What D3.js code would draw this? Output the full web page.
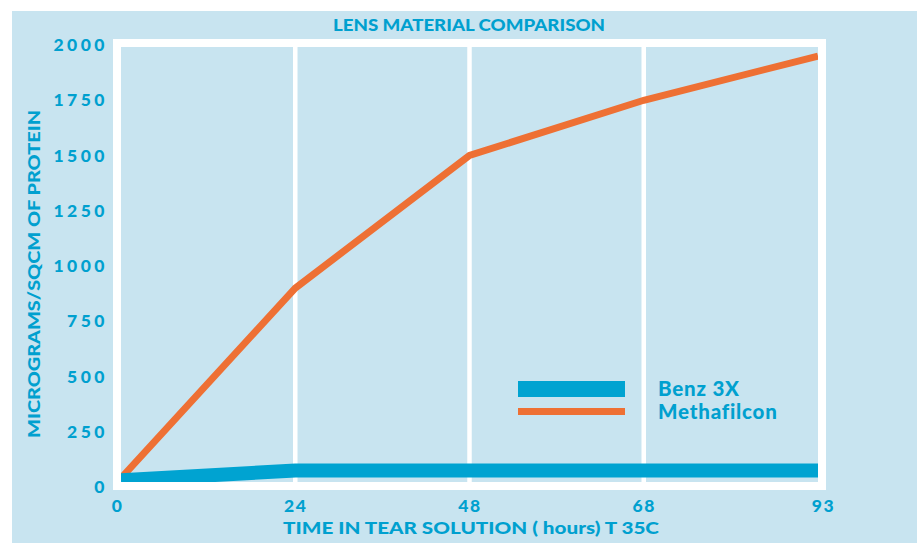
<!DOCTYPE html>
<html><head><meta charset="utf-8">
<script src="https://cdn.jsdelivr.net/npm/d3@7"></script>
<style>
html,body{margin:0;padding:0;background:#fff;}
svg{display:block;}
text{font-family:Lato,"Open Sans",sans-serif;font-weight:900;fill:#00a0cf;font-variant-ligatures:none;}
</style></head>
<body>
<svg id="c" width="917" height="543"></svg>
<script>
const hours = ["0","24","48","68","93"];
const benz = [30, 75, 75, 75, 75];
const methafilcon = [40, 900, 1500, 1750, 1950];
const yTicks = [0,250,500,750,1000,1250,1500,1750,2000];
const seriesNames = ["Benz 3X","Methafilcon"];
const colors = {bg:"#c8e4f0", blue:"#00a3d1", orange:"#ee7034", text:"#00a0cf"};

const svg = d3.select("#c");
const W = 917, H = 543;
const inner = {l:121, r:818, t:47, b:482};
const x = d3.scalePoint().domain(hours).range([inner.l, inner.r]).padding(0);
const y = d3.scaleLinear().domain([0,2000]).range([487,45]);

svg.append("rect").attr("x",12).attr("y",11).attr("width",W-12).attr("height",H-11).attr("fill",colors.bg);
// frame
svg.append("rect").attr("x",inner.l-8).attr("y",inner.t-8)
  .attr("width",inner.r-inner.l+16).attr("height",inner.b-inner.t+16).attr("fill","#fff");
svg.append("rect").attr("x",inner.l).attr("y",inner.t)
  .attr("width",inner.r-inner.l).attr("height",inner.b-inner.t).attr("fill",colors.bg);

svg.append("defs").append("clipPath").attr("id","clip").append("rect")
  .attr("x",inner.l).attr("y",inner.t).attr("width",inner.r-inner.l).attr("height",inner.b-inner.t);

// gridlines
svg.append("g").selectAll("line").data(hours.slice(1,-1)).join("line")
  .attr("x1",d=>x(d)).attr("x2",d=>x(d)).attr("y1",inner.t).attr("y2",inner.b)
  .attr("stroke","#fff").attr("stroke-width",4.5);

const line = d3.line().x((d,i)=>x(hours[i])).y(d=>y(d));
const g = svg.append("g").attr("clip-path","url(#clip)");
g.append("path").datum(methafilcon).attr("d",line).attr("fill","none")
  .attr("stroke",colors.orange).attr("stroke-width",7).attr("stroke-linejoin","miter");
g.append("path").datum(benz).attr("d",line).attr("fill","none")
  .attr("stroke",colors.blue).attr("stroke-width",14).attr("stroke-linejoin","miter");

// axes
const ya = svg.append("g").attr("transform",`translate(${inner.l},0)`)
  .call(d3.axisLeft(y).tickValues(yTicks).tickSize(0).tickPadding(13).tickFormat(d3.format("d")));
ya.select(".domain").remove();
ya.selectAll("text").attr("font-size",17.5).style("letter-spacing","3.5px")
  .attr("font-family",null).attr("fill",colors.text);

const xa = svg.append("g").attr("transform",`translate(0,${inner.b})`)
  .call(d3.axisBottom(x).tickSize(0).tickPadding(18));
xa.select(".domain").remove();
xa.selectAll("text").attr("font-size",17.5).style("letter-spacing","1.5px")
  .attr("font-family",null).attr("fill",colors.text)
  .attr("dx",(d,i)=> i===0 ? -4 : (i===hours.length-1 ? 5 : 0));

// titles
svg.append("text").attr("x",469).attr("y",31).attr("text-anchor","middle")
  .attr("font-size",17).attr("textLength",272).attr("lengthAdjust","spacingAndGlyphs")
  .text("LENS MATERIAL COMPARISON");
svg.append("text").attr("x",471).attr("y",534).attr("text-anchor","middle")
  .attr("font-size",16).attr("textLength",376).attr("lengthAdjust","spacingAndGlyphs")
  .text("TIME IN TEAR SOLUTION ( hours) T 35C");
svg.append("text").attr("transform","translate(40,274) rotate(-90)").attr("text-anchor","middle")
  .attr("font-size",16).attr("textLength",328).attr("lengthAdjust","spacingAndGlyphs")
  .text("MICROGRAMS/SQCM OF PROTEIN");

// legend
const lg = svg.append("g");
lg.append("rect").attr("x",518).attr("y",381).attr("width",107).attr("height",16).attr("fill",colors.blue);
lg.append("rect").attr("x",518).attr("y",408).attr("width",107).attr("height",7).attr("fill",colors.orange);
lg.selectAll("text.l").data(seriesNames).join("text").attr("class","l")
  .attr("x",658).attr("y",(d,i)=>396+i*23).attr("font-size",20.5)
  .style("letter-spacing","0.8px")
  .text(d=>d);
</script>
</body></html>
